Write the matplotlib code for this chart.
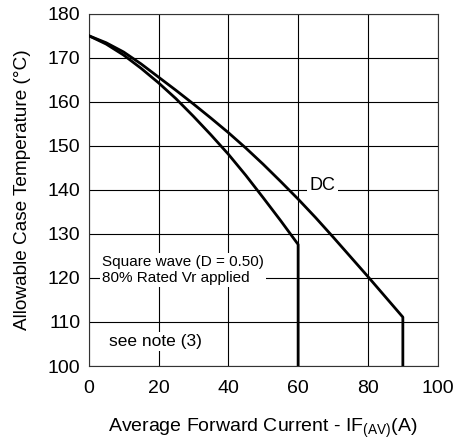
import matplotlib
matplotlib.use("Agg")
import matplotlib.pyplot as plt

plt.rcParams["font.family"] = ["Liberation Sans", "DejaVu Sans"]
plt.rcParams["mathtext.fontset"] = "custom"
plt.rcParams["mathtext.rm"] = "Liberation Sans"

# DC curve (A, degC)
dc_current = [0, 5, 10, 15, 20, 25, 30, 35, 40, 45, 50, 55, 60, 65, 70, 75, 80, 85, 90, 90]
dc_temp = [175, 173.4, 171.3, 168.6, 165.6, 162.6, 159.5, 156.3, 153.0, 149.5,
           145.8, 141.9, 137.9, 133.7, 129.3, 124.8, 120.3, 115.7, 111.1, 100]

# Square wave D = 0.50
sq_current = [0, 5, 10, 15, 20, 25, 30, 35, 40, 45, 50, 55, 60, 60]
sq_temp = [175, 173.1, 170.6, 167.6, 164.3, 160.7, 156.7, 152.5, 148.1, 143.3,
           138.2, 133.0, 127.6, 100]

x_ticks = [0, 20, 40, 60, 80, 100]
y_ticks = [100, 110, 120, 130, 140, 150, 160, 170, 180]

fig = plt.figure(figsize=(4.56, 4.41), dpi=100)
ax = fig.add_axes([0.1945, 0.170, 0.7655, 0.799])

ax.plot(dc_current, dc_temp, color="black", lw=2.0, zorder=3)
ax.plot(sq_current, sq_temp, color="black", lw=2.0, zorder=3)

ax.set_xlim(0, 100)
ax.set_ylim(100, 180)
ax.set_xticks(x_ticks)
ax.set_yticks(y_ticks)
ax.grid(True, color="black", lw=0.8)
ax.tick_params(length=0, labelsize=14)
ax.tick_params(axis="x", pad=10)
ax.tick_params(axis="y", pad=6)
for s in ax.spines.values():
    s.set_color("#333333")
    s.set_linewidth(0.8)

box = dict(facecolor="white", edgecolor="none", pad=1.5)
ax.text(63.3, 141, "DC", fontsize=13, va="center", ha="left", bbox=box, zorder=4)
ax.text(3.8, 121.8, "Square wave (D = 0.50)\n80% Rated Vr applied", fontsize=11,
        va="center", ha="left", linespacing=1.2, bbox=box, zorder=4)
ax.text(5.8, 105.5, "see note (3)", fontsize=12.5, va="center", ha="left", bbox=box, zorder=4)

ax.set_xlabel(r"Average Forward Current - IF$_{\mathrm{(AV)}}$(A)", fontsize=14, labelpad=14)
ax.set_ylabel("Allowable Case Temperature (°C)", fontsize=13.7, labelpad=12)

fig.savefig("out.png", dpi=100)
